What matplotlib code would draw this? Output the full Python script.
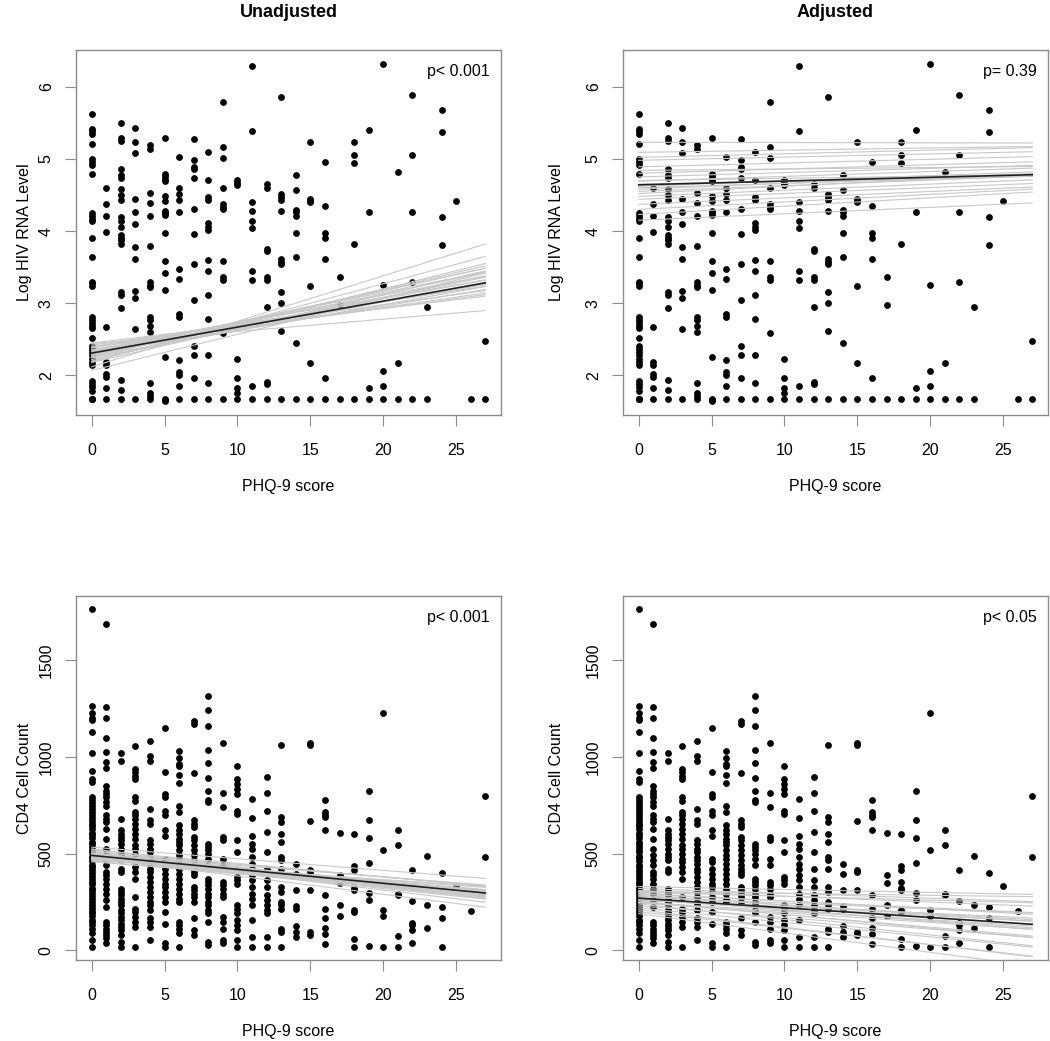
import numpy as np
import matplotlib.pyplot as plt

plt.rcParams['font.family'] = ['Liberation Sans', 'DejaVu Sans']

# log HIV RNA values, one list per PHQ-9 score (index = score)
rna_values = [
    [5.62, 5.41, 5.38, 5.34, 5.20, 5.00, 4.96, 4.92, 4.79, 4.25, 4.21, 4.17, 4.14, 3.90, 3.64,
     3.30, 3.28, 3.24, 2.81, 2.77, 2.72, 2.68, 2.66, 2.52, 2.41, 2.37, 2.32, 2.28, 2.23, 2.18,
     2.14, 1.93, 1.88, 1.84, 1.79, 1.68, 1.68, 1.68],
    [4.59, 4.37, 4.21, 3.99, 2.67, 2.18, 2.14, 2.02, 1.98, 1.82, 1.68],
    [5.50, 5.29, 5.25, 4.86, 4.77, 4.73, 4.58, 4.50, 4.43, 4.20, 4.14, 4.06, 3.95, 3.91, 3.87,
     3.82, 3.15, 3.12, 2.94, 1.94, 1.80, 1.68],
    [5.43, 5.24, 5.08, 4.45, 4.26, 4.10, 3.78, 3.61, 3.17, 3.07, 2.64, 1.68],
    [5.19, 5.13, 4.53, 4.39, 4.21, 3.79, 3.29, 3.25, 3.22, 2.81, 2.77, 2.68, 2.60, 1.90, 1.76,
     1.72, 1.68],
    [5.29, 4.79, 4.76, 4.72, 4.69, 4.49, 4.42, 4.28, 4.25, 4.22, 3.98, 3.58, 3.42, 3.19, 2.26,
     1.68, 1.66, 1.64],
    [5.03, 4.60, 4.51, 4.43, 4.27, 3.48, 3.34, 2.85, 2.81, 2.22, 2.05, 2.00, 1.86, 1.68],
    [5.27, 4.98, 4.89, 4.86, 4.73, 4.31, 3.96, 3.54, 3.05, 2.41, 2.29, 1.97, 1.68],
    [5.09, 4.71, 4.47, 4.43, 4.11, 4.06, 4.01, 3.60, 3.44, 3.11, 2.78, 2.29, 1.89, 1.68],
    [5.79, 5.17, 5.01, 4.60, 4.37, 4.34, 4.31, 3.59, 3.36, 3.32, 2.59, 1.68],
    [4.71, 4.67, 4.64, 2.23, 1.97, 1.82, 1.76, 1.68],
    [6.29, 5.38, 4.40, 4.28, 4.14, 4.04, 3.45, 3.32, 1.85, 1.68],
    [4.65, 4.60, 3.75, 3.72, 3.36, 3.32, 2.95, 1.91, 1.88, 1.68],
    [5.86, 4.51, 4.47, 4.43, 4.28, 3.61, 3.57, 3.54, 3.16, 3.00, 2.62, 1.68],
    [4.78, 4.57, 4.29, 4.26, 4.21, 3.97, 3.64, 2.45, 1.68],
    [5.24, 4.45, 4.42, 4.40, 3.24, 2.17, 1.68],
    [4.95, 4.35, 3.98, 3.91, 3.61, 1.96, 1.68],
    [3.37, 2.98, 1.68],
    [5.24, 5.05, 4.94, 3.82, 1.68],
    [5.40, 4.26, 1.82, 1.68],
    [6.32, 3.25, 2.06, 1.85, 1.68],
    [4.82, 2.17, 1.68],
    [5.89, 5.05, 4.27, 3.30, 1.68],
    [2.95, 1.68],
    [5.68, 5.37, 4.20, 3.80],
    [4.42],
    [1.68],
    [2.48, 1.68],
]

# CD4 cell counts, one list per PHQ-9 score
cd4_values = [
    [1763, 1265, 1230, 1204, 1191, 1127, 1019, 930, 887, 869, 792, 778, 761, 748, 731, 716,
     702, 684, 671, 655, 641, 627, 609, 596, 582, 563, 551, 534, 521, 507, 489, 476, 462, 444,
     431, 414, 402, 386, 369, 356, 341, 324, 311, 297, 279, 266, 251, 236, 219, 206, 191, 177,
     159, 146, 131, 113, 88, 53, 20],
    [1686, 1259, 1204, 1098, 1027, 973, 942, 852, 826, 809, 792, 766, 749, 698, 680, 663, 629,
     577, 526, 491, 466, 440, 405, 388, 371, 345, 320, 294, 259, 225, 148, 131, 113, 96, 79,
     62, 36],
    [1021, 981, 680, 620, 603, 586, 569, 552, 526, 500, 483, 466, 423, 405, 320, 302, 285, 268,
     251, 234, 208, 191, 174, 156, 139, 122, 105, 79, 45, 20],
    [1058, 938, 921, 904, 887, 792, 775, 715, 698, 680, 655, 629, 603, 577, 543, 526, 500, 474,
     457, 431, 405, 371, 277, 216, 199, 174, 148, 122, 20],
    [1081, 1007, 981, 732, 672, 655, 569, 552, 526, 509, 483, 466, 448, 423, 405, 380, 354, 328,
     302, 277, 251, 234, 208, 165, 148, 122, 53],
    [1149, 921, 809, 792, 723, 698, 620, 594, 474, 457, 423, 397, 371, 345, 328, 302, 277, 251,
     199, 139, 36, 20],
    [1033, 993, 964, 952, 909, 866, 749, 715, 646, 620, 603, 577, 560, 543, 517, 491, 474, 448,
     423, 397, 371, 345, 320, 294, 268, 251, 148, 131, 113, 88, 20],
    [1187, 1170, 917, 672, 655, 637, 586, 569, 543, 517, 491, 466, 440, 423, 405, 388, 328, 311,
     294, 277, 251, 165, 105, 79],
    [1313, 1242, 1162, 1038, 969, 892, 826, 780, 766, 552, 535, 517, 500, 474, 440, 371, 354,
     337, 320, 294, 277, 251, 234, 208, 191, 148, 45, 28],
    [1070, 813, 744, 586, 569, 474, 440, 354, 337, 320, 294, 277, 174, 148, 113, 53, 36],
    [955, 887, 861, 835, 809, 723, 706, 569, 509, 380, 363, 345, 234, 216, 191, 156, 131, 105,
     53, 20],
    [784, 684, 594, 552, 526, 483, 448, 423, 388, 363, 328, 294, 268, 234, 156, 70, 20],
    [899, 813, 723, 612, 509, 423, 363, 328, 285, 259, 234, 208, 191, 70, 20],
    [1064, 689, 663, 603, 560, 483, 466, 423, 328, 302, 251, 234, 216, 113, 96, 20],
    [448, 397, 311, 230, 216, 127, 96, 70],
    [1070, 1062, 667, 414, 405, 311, 93, 82],
    [780, 715, 698, 689, 624, 289, 216, 165, 117, 84, 31],
    [608, 388, 349, 234, 179],
    [603, 436, 414, 354, 325, 311, 208, 196, 57, 20],
    [826, 672, 581, 452, 299, 263, 24],
    [1230, 517, 208, 179, 20],
    [624, 546, 294, 285, 74, 20],
    [414, 254, 144, 131, 108, 36],
    [486, 234, 117],
    [402, 222, 165, 20],
    [332],
    [204],
    [796, 483],
]

# fitted lines: main estimate and resampled fits (intercept, slope)
rna_unadj_fit = (2.31, 0.0360)
rna_unadj_intercepts = [2.12, 2.07, 2.20, 2.25, 2.18, 2.30, 2.28, 2.22, 2.33, 2.35, 2.26, 2.38,
                        2.30, 2.40, 2.42, 2.36, 2.45, 2.44, 2.24, 2.32, 2.27, 2.34, 2.29, 2.19,
                        2.39]
rna_unadj_slopes = [0.063, 0.050, 0.050, 0.047, 0.047, 0.044, 0.040, 0.043, 0.041, 0.038, 0.036,
                    0.035, 0.033, 0.031, 0.028, 0.029, 0.024, 0.017, 0.039, 0.037, 0.045, 0.034,
                    0.042, 0.054, 0.027]

rna_adj_fit = (4.64, 0.0052)
rna_adj_intercepts = [5.23, 5.09, 4.98, 4.89, 4.80, 4.75, 4.69, 4.62, 4.55, 4.48, 4.44, 4.37,
                      4.30, 4.23, 4.15, 4.65, 4.60, 4.70, 4.58, 4.84, 5.02, 4.52]
rna_adj_slopes = [-0.0004, 0.0030, 0.0044, 0.0052, 0.0059, 0.0059, 0.0067, 0.0074, 0.0078,
                  0.0085, 0.0081, 0.0089, 0.0104, 0.0115, 0.0089, 0.0040, 0.0060, 0.0030,
                  0.0080, 0.0020, 0.0050, 0.0100]

cd4_unadj_fit = (491, -7.2)
cd4_unadj_intercepts = [534, 520, 510, 505, 500, 498, 495, 492, 490, 488, 486, 484, 482, 480,
                        478, 476, 474, 472, 470, 466, 462, 458, 515, 525, 502]
cd4_unadj_slopes = [-6.0, -7.0, -6.5, -7.8, -6.0, -8.2, -7.0, -9.0, -6.5, -7.5, -8.0, -6.8,
                    -7.2, -9.5, -6.2, -7.8, -5.5, -7.0, -6.0, -5.0, -6.6, -5.8, -8.8, -9.2, -8.6]

cd4_adj_fit = (270, -5.0)
cd4_adj_intercepts = [330, 320, 310, 300, 295, 290, 285, 280, 275, 270, 265, 260, 255, 250,
                      245, 240, 230, 220, 210, 200, 190, 305, 262, 248]
cd4_adj_slopes = [-1.5, -2.5, -3.0, -2.0, -4.0, -3.5, -5.0, -4.5, -3.0, -6.0, -5.5, -4.0, -7.0,
                  -6.5, -5.0, -8.0, -6.0, -7.5, -9.0, -8.5, -10.0, -1.0, -3.5, -4.5]

p_labels = ['p< 0.001', 'p= 0.39', 'p< 0.001', 'p< 0.05']
col_titles = ['Unadjusted', 'Adjusted']

rna_x = np.concatenate([[s] * len(v) for s, v in enumerate(rna_values)])
rna_y = np.concatenate([v for v in rna_values])
cd4_x = np.concatenate([[s] * len(v) for s, v in enumerate(cd4_values)])
cd4_y = np.concatenate([v for v in cd4_values])


def r_range(v):
    # R style axis range: data range widened by 4 % on both sides
    lo, hi = np.min(v), np.max(v)
    pad = 0.04 * (hi - lo)
    return lo - pad, hi + pad


W, H = 1050, 1041
fig = plt.figure(figsize=(W / 100, H / 100), dpi=100)

# panel boxes in pixels: left, right, top, bottom
boxes = [(76, 501, 50, 415), (623, 1048, 50, 415),
         (76, 501, 596, 960), (623, 1048, 596, 960)]
ylabel_pads = [5, 16, 5, 16]

panels = [
    (rna_x, rna_y, rna_unadj_fit, rna_unadj_intercepts, rna_unadj_slopes,
     'Log HIV RNA Level', [2, 3, 4, 5, 6]),
    (rna_x, rna_y, rna_adj_fit, rna_adj_intercepts, rna_adj_slopes,
     'Log HIV RNA Level', [2, 3, 4, 5, 6]),
    (cd4_x, cd4_y, cd4_unadj_fit, cd4_unadj_intercepts, cd4_unadj_slopes,
     'CD4 Cell Count', [0, 500, 1000, 1500]),
    (cd4_x, cd4_y, cd4_adj_fit, cd4_adj_intercepts, cd4_adj_slopes,
     'CD4 Cell Count', [0, 500, 1000, 1500]),
]

xs = np.array([0, 27])
box_col = '#8c8c8c'

for i, (px, py, fit, ints, slopes, ylab, yticks) in enumerate(panels):
    l, r, t, b = boxes[i]
    ax = fig.add_axes([l / W, 1 - b / H, (r - l) / W, (b - t) / H])
    ax.scatter(px, py, s=24, c='black', linewidths=0, zorder=2)
    for a, s in zip(ints, slopes):
        ax.plot(xs, a + s * xs, color='#c8c8c8', lw=0.8, zorder=3)
    ax.plot(xs, fit[0] + fit[1] * xs, color='#202020', lw=1.2, zorder=4)

    ax.set_xlim(r_range(px))
    ax.set_ylim(r_range(py))
    ax.set_xticks([0, 5, 10, 15, 20, 25])
    ax.set_yticks(yticks)
    ax.set_yticklabels([str(v) for v in yticks], rotation=90, va='center')
    ax.tick_params(direction='out', length=8, width=0.8, color=box_col,
                   labelsize=11.5, pad=12)
    ax.tick_params(axis='y', pad=8)
    for sp in ax.spines.values():
        sp.set_color(box_col)
        sp.set_linewidth(1.0)
    ax.set_xlabel('PHQ-9 score', fontsize=11.5, labelpad=15)
    ax.set_ylabel(ylab, fontsize=11.5, labelpad=ylabel_pads[i])
    ax.text(0.974, 0.94, p_labels[i], transform=ax.transAxes, ha='right', va='center',
            fontsize=11.5)
    if i < 2:
        ax.set_title(col_titles[i], fontsize=13, fontweight='bold', pad=24)

fig.savefig('out.png', dpi=100)
